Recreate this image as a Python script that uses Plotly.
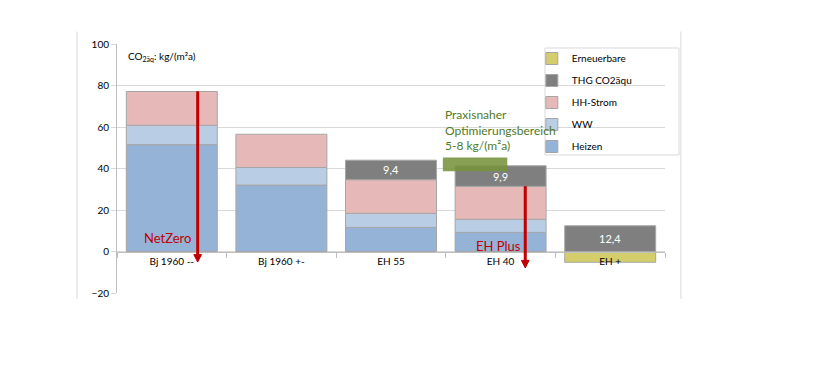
import plotly.graph_objects as go

categories = ["Bj 1960 --", "Bj 1960 +-", "EH 55", "EH 40", "EH +"]
heizen = [51.5, 32.0, 11.6, 9.2, None]
ww = [9.3, 8.5, 6.8, 6.3, None]
hh_strom = [16.3, 16.0, 16.2, 15.9, None]
thg = [None, None, 9.4, 9.9, 12.4]
erneuerbare = [None, None, None, None, -5.2]

y_ticks = [-20, 0, 20, 40, 60, 80, 100]

FONT = "Lato"
EDGE = "#a6a6a6"
RED = "#c00000"

series = [
    ("Heizen", heizen, "#95b3d7", False, 5),
    ("WW", ww, "#b9cde5", False, 4),
    ("HH-Strom", hh_strom, "#e6b9b8", False, 3),
    ("THG CO2äqu", thg, "#7f7f7f", True, 2),
    ("Erneuerbare", erneuerbare, "#d4cd6b", False, 1),
]

fig = go.Figure()
for name, vals, col, lab, rank in series:
    xs = [c for c, v in zip(categories, vals) if v is not None]
    ys = [v for v in vals if v is not None]
    kw = {}
    if lab:
        kw = dict(texttemplate="%{y:.1f}", textposition="inside",
                  insidetextanchor="middle", textangle=0,
                  textfont=dict(color="white", size=11, family=FONT))
    fig.add_trace(go.Bar(
        x=xs, y=ys, name=name, legendgroup=name, legendrank=rank,
        marker=dict(color=col, line=dict(color=EDGE, width=1)),
        **kw))

fig.update_layout(
    width=820, height=390,
    margin=dict(l=117, r=155, t=44, b=97),
    barmode="relative", bargap=0.17,
    separators=",.",
    plot_bgcolor="white", paper_bgcolor="white",
    font=dict(family=FONT, size=10, color="#000000"),
    showlegend=True,
    legend=dict(
        x=0.757, y=1.0, xanchor="left", yanchor="top",
        traceorder="grouped", tracegroupgap=3,
        bgcolor="rgba(255,255,255,0)", borderwidth=0,
        font=dict(size=10, family=FONT, color="#000000"),
        itemwidth=30,
    ),
    xaxis=dict(
        type="category", categoryorder="array", categoryarray=categories,
        range=[-0.5, 4.5],
        anchor="free", position=20 / 120,
        showline=True, linecolor="#bfbfbf", linewidth=1,
        ticks="outside", tickson="boundaries", ticklen=5, tickcolor="#bfbfbf",
        showgrid=False, tickfont=dict(size=10, family=FONT, color="#000000"),
    ),
    yaxis=dict(
        range=[-20, 100], tickvals=y_ticks, domain=[0, 1],
        showgrid=True, gridcolor="#d9d9d9", gridwidth=1,
        zeroline=False, showline=True, linecolor="#bfbfbf",
        ticks="outside", ticklen=5, tickcolor="#d9d9d9",
        tickfont=dict(size=10, family=FONT, color="#000000"),
    ),
)

# outer frame side lines
for xp in (-0.073, 1.029):
    fig.add_shape(type="line", xref="paper", yref="paper",
                  x0=xp, x1=xp, y0=-0.024, y1=1.05,
                  line=dict(color="#d9d9d9", width=1))

# legend frame
fig.add_shape(type="rect", xref="paper", yref="paper",
              x0=(545 - 117) / 548, x1=(679 - 117) / 548,
              y0=(293 - 155) / 249, y1=(293 - 48) / 249,
              line=dict(color="#d9d9d9", width=1), fillcolor="rgba(0,0,0,0)")

# green optimisation band
fig.add_shape(type="rect", xref="x", yref="y",
              x0=2.473, x1=3.061, y0=38.7, y1=45.3,
              fillcolor="rgba(119,147,60,0.88)", line=dict(width=0))

# unit label
fig.add_annotation(xref="paper", yref="paper", x=0.016, y=0.948,
                   xanchor="left", yanchor="middle", showarrow=False,
                   text="CO<sub>2äq</sub>: kg/(m²a)",
                   font=dict(size=10, family=FONT, color="#000000"))

# red arrows (line + triangular head)
hw = 0.035   # half head width (category units)
hh = 3.6     # head height (y units)
for xa, ytop, ytip in ((0.236, 77.2, -5.1), (3.225, 31.5, -7.9)):
    fig.add_shape(type="line", xref="x", yref="y",
                  x0=xa, x1=xa, y0=ytop, y1=ytip + hh * 0.8,
                  line=dict(color=RED, width=3))
    fig.add_shape(type="path", xref="x", yref="y",
                  path=f"M {xa - hw},{ytip + hh} L {xa + hw},{ytip + hh} L {xa},{ytip} Z",
                  fillcolor=RED, line=dict(color=RED, width=1))

fig.add_annotation(xref="x", yref="y", x=-0.036, y=6.5, text="NetZero",
                   showarrow=False, font=dict(size=13, family=FONT, color=RED))
fig.add_annotation(xref="x", yref="y", x=2.977, y=2.8, text="EH Plus",
                   showarrow=False, font=dict(size=13, family=FONT, color=RED))

fig.add_annotation(xref="x", yref="y", x=2.47, y=70.5, xanchor="left", yanchor="top",
                   align="left", showarrow=False,
                   text="Praxisnaher<br>Optimierungsbereich<br>5-8 kg/(m²a)",
                   font=dict(size=12, family=FONT, color="#4f7a28"))

fig.write_html("out.html")
